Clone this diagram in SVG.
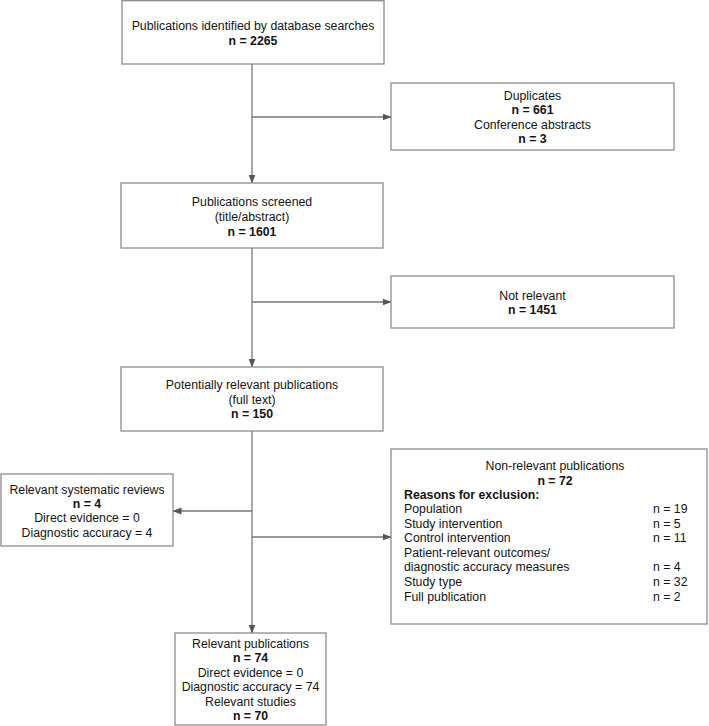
<svg xmlns="http://www.w3.org/2000/svg" width="709" height="726" viewBox="0 0 709 726">
<style>
.box{fill:#fff;stroke:#8c8c8c;stroke-width:1.3}
.t{font-family:"Liberation Sans",Arial,sans-serif;font-size:12.3px;fill:#141414}
.c{text-anchor:middle}
.b{font-weight:bold}
.ln{fill:none;stroke:#777;stroke-width:1.3}
</style>
<defs>
<marker id="ah" markerWidth="9" markerHeight="8" refX="8.5" refY="4" orient="auto" markerUnits="userSpaceOnUse">
<path d="M0,0.5 L9,4 L0,7.5 Z" fill="#555"/>
</marker>
</defs>
<rect width="709" height="726" fill="#fff"/>
<g id="connectors">
<line class="ln" x1="252" y1="64" x2="252" y2="183" marker-end="url(#ah)"/>
<line class="ln" x1="252" y1="117" x2="391" y2="117" marker-end="url(#ah)"/>
<line class="ln" x1="252" y1="248" x2="252" y2="367" marker-end="url(#ah)"/>
<line class="ln" x1="252" y1="302" x2="391" y2="302" marker-end="url(#ah)"/>
<line class="ln" x1="252" y1="431" x2="252" y2="633" marker-end="url(#ah)"/>
<line class="ln" x1="252" y1="511" x2="173" y2="511" marker-end="url(#ah)"/>
<line class="ln" x1="252" y1="537" x2="391" y2="537" marker-end="url(#ah)"/>
</g>
<g id="identified">
<rect class="box" x="122" y="0.7" width="262" height="63.3"/>
<text class="t c" x="253" y="29.5">Publications identified by database searches</text>
<text class="t c b" x="253" y="44.5">n = 2265</text>
</g>
<g id="duplicates">
<rect class="box" x="391" y="83" width="283" height="67"/>
<text class="t c" x="532.5" y="99.5">Duplicates</text>
<text class="t c b" x="532.5" y="114">n = 661</text>
<text class="t c" x="532.5" y="128.5">Conference abstracts</text>
<text class="t c b" x="532.5" y="143">n = 3</text>
</g>
<g id="screened">
<rect class="box" x="121" y="183" width="262" height="65"/>
<text class="t c" x="252" y="205.5">Publications screened</text>
<text class="t c" x="252" y="220.5">(title/abstract)</text>
<text class="t c b" x="252" y="235.5">n = 1601</text>
</g>
<g id="notrelevant">
<rect class="box" x="391" y="276" width="283" height="52"/>
<text class="t c" x="532.5" y="299.5">Not relevant</text>
<text class="t c b" x="532.5" y="313.5">n = 1451</text>
</g>
<g id="fulltext">
<rect class="box" x="121" y="367" width="262" height="64"/>
<text class="t c" x="252" y="389">Potentially relevant publications</text>
<text class="t c" x="252" y="403.5">(full text)</text>
<text class="t c b" x="252" y="418">n = 150</text>
</g>
<g id="reviews">
<rect class="box" x="1" y="474" width="172" height="72"/>
<text class="t c" x="87" y="493.5">Relevant systematic reviews</text>
<text class="t c b" x="87" y="507.5">n = 4</text>
<text class="t c" x="87" y="522">Direct evidence = 0</text>
<text class="t c" x="87" y="537">Diagnostic accuracy = 4</text>
</g>
<g id="nonrelevant">
<rect class="box" x="391" y="449" width="316" height="175"/>
<text class="t c" x="555" y="469.5">Non-relevant publications</text>
<text class="t c b" x="555" y="484.5">n = 72</text>
<text class="t b" x="404" y="499">Reasons for exclusion:</text>
<text class="t" x="404" y="513">Population</text>
<text class="t" x="653" y="513">n = 19</text>
<text class="t" x="404" y="527.5">Study intervention</text>
<text class="t" x="653" y="527.5">n = 5</text>
<text class="t" x="404" y="542">Control intervention</text>
<text class="t" x="653" y="542">n = 11</text>
<text class="t" x="404" y="556.5">Patient-relevant outcomes/</text>
<text class="t" x="404" y="571">diagnostic accuracy measures</text>
<text class="t" x="653" y="571">n = 4</text>
<text class="t" x="404" y="586">Study type</text>
<text class="t" x="653" y="586">n = 32</text>
<text class="t" x="404" y="600.5">Full publication</text>
<text class="t" x="653" y="600.5">n = 2</text>
</g>
<g id="relevant">
<rect class="box" x="175" y="633" width="151" height="92"/>
<text class="t c" x="250.5" y="647.5">Relevant publications</text>
<text class="t c b" x="250.5" y="662">n = 74</text>
<text class="t c" x="250.5" y="676.5">Direct evidence = 0</text>
<text class="t c" x="250.5" y="691">Diagnostic accuracy = 74</text>
<text class="t c" x="250.5" y="705.5">Relevant studies</text>
<text class="t c b" x="250.5" y="720">n = 70</text>
</g>
</svg>
